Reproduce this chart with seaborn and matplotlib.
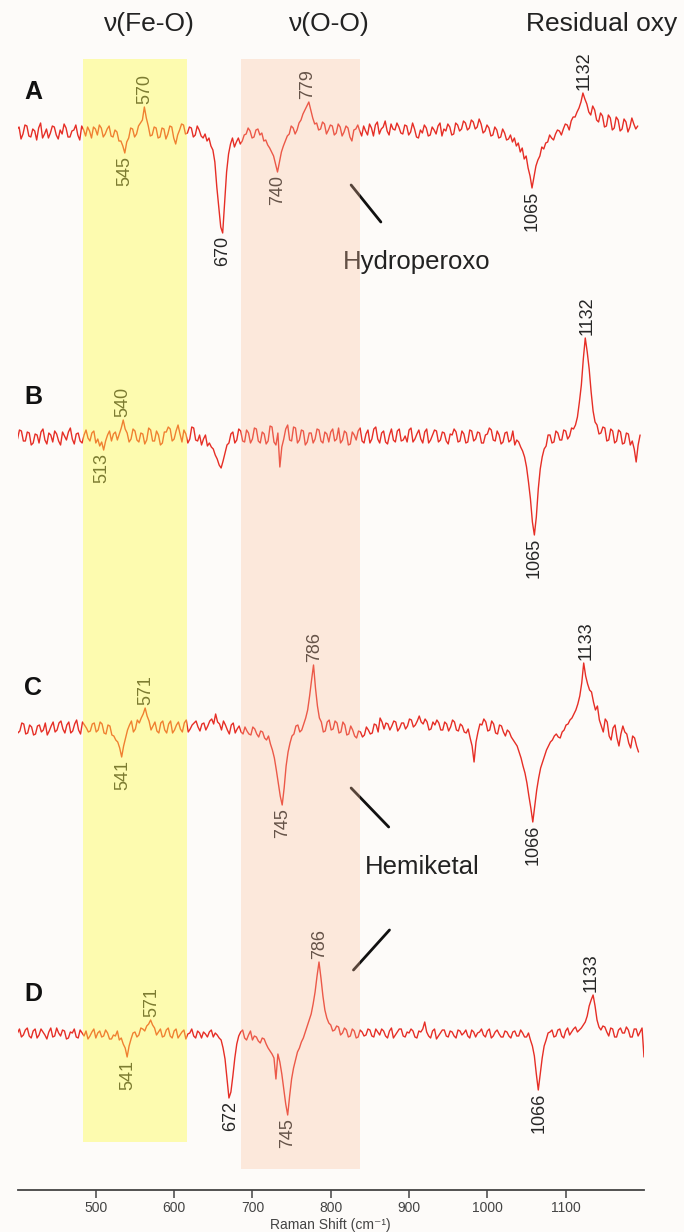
import numpy as np
import pandas as pd
import matplotlib
matplotlib.use("Agg")
import matplotlib.pyplot as plt
import seaborn as sns

# Raman difference spectra, sampled every 2.5 cm-1 from 400 to 1200
wavenumber = np.arange(400, 1200.1, 2.5)

trace_names = ["A", "B", "C", "D"]

spec_A = [2, 8, -4, 3, 5, -7, -2, 7, 6, -4, -5, 3, 1, -8, 4, 9, -6, -2, 3, -6,
          -1, 6, 5, -3, -7, 2, -2, 8, 4, -5, -5, 1, 2, 7, -3, -8, 6, 2, -4, 5,
          1, -6, 5, 3, -3, 7, 4, -5, -2, 3, 6, -4, -5, 2, 0, -9, -9, -14, -21, -10,
          -6, 4, 3, -5, -2, 6, 9, 12, 25, 14, 6, -4, -3, 5, 4, -6, -5, 4, 3, -7,
          -2, 6, 5, -6, -12, -3, 2, 8, 7, -2, -1, 5, 4, -5, -3, 6, 2, -4, -6, -2,
          -9, -6, -14, -18, -30, -55, -75, -95, -101, -70, -40, -22, -12, -6, -15, -10, -6, -12, -9, -3,
          -2, 4, 1, -6, -5, 2, 3, -3, -1, -9, -8, -13, -16, -20, -24, -32, -40, -30, -20, -14,
          -9, -4, -2, 6, 4, -2, 2, 9, 12, 18, 22, 26, 30, 22, 14, 8, 9, 2, 3, 10,
          8, -2, 2, 7, 6, -3, -1, 8, 5, -4, 0, 6, 4, -5, -9, 2, 3, 7, 1, -4,
          6, 1, -3, 8, 4, -4, 7, 10, -2, 3, 5, 11, 1, -3, 8, 3, 2, 9, 5, -1,
          -2, 7, 6, -3, 0, 9, 3, -5, -6, 2, -1, 7, 4, -4, -3, 5, 2, -2, 6, 9,
          -4, 3, 1, 8, 5, -3, -2, 9, 7, 1, 3, 11, 9, 2, 4, 12, 10, 3, 5, 13,
          8, -1, 1, 7, 4, -4, -3, 5, 2, -6, -5, 3, -1, -8, -7, -3, -10, -6, -14, -11,
          -20, -16, -27, -24, -36, -44, -56, -45, -34, -28, -24, -15, -17, -11, -10, -3, -6, -8, -2, 2,
          1, -3, 3, 8, 7, 2, 11, 15, 15, 20, 24, 30, 39, 33, 28, 20, 17, 26, 22, 12,
          10, 19, 16, 5, 6, 17, 14, 2, 4, 15, 12, 1, 3, 13, 10, 0, 5, 14, 8, 3,
          6]

spec_B = [3, -5, -2, 7, 6, -4, -4, 5, 4, -8, -6, 3, 2, -6, 5, 8, -3, -7, 4, 2,
          -5, 6, 3, -4, -8, 5, 1, -3, 5, 9, -2, -7, 3, 4, -4, -6, 2, 7, -1, -4,
          4, 6, -6, -2, -9, -5, -13, -4, 2, 6, -4, 3, 5, -3, 3, 9, 17, 8, 4, -5,
          -2, 8, 6, -3, -5, 4, 3, -7, -3, 9, 7, -4, -4, 6, 2, -8, -6, 5, 5, 10,
          8, -4, -2, 6, 12, 3, -5, 7, 3, -6, -2, 10, 9, -3, -4, 2, -8, -2, 2, -9,
          -6, -10, -12, -18, -22, -28, -31, -24, -16, -8, -6, 3, 5, -6, -3, 8, 6, -4, -5, 7,
          4, -6, -2, 9, 8, -4, -6, 5, 3, -7, -4, 11, 10, -5, -8, 4, -30, -10, -2, 8,
          12, -3, -4, 10, 9, -6, -3, 7, 6, -8, -5, 4, 4, -6, -2, 8, 7, -4, -6, 5,
          3, -5, 5, 8, -4, -2, 9, -6, -3, 6, 4, -8, -7, 5, 2, -3, 6, 9, -4, -6,
          3, 7, -6, -2, 8, 10, -2, -6, 4, 6, -5, -7, 2, 8, -3, -5, 6, 8, -4, -3,
          1, -5, 7, 9, -5, -2, 3, 7, -2, -6, 5, 8, -6, -3, 2, 7, 6, -5, -3, 5,
          4, -4, -7, 3, 2, 8, 5, -5, -4, 6, 3, -6, -5, 7, 6, -4, -2, 5, 4, -6,
          -6, 2, 3, 9, 7, -3, -4, 6, 2, -7, -5, 4, 5, -5, -3, 6, -8, -3, -5, -10,
          -14, -20, -30, -45, -62, -85, -98, -80, -52, -32, -20, -12, -9, 2, 2, -6, -5, 6, 4, -3,
          -3, 7, 6, -2, 1, 9, 8, 12, 20, 35, 52, 78, 99, 85, 68, 45, 26, 15, 12, 3,
          4, 10, 9, -4, -3, 8, 6, -6, -4, 7, 5, -7, -6, 4, 3, -8, -4, -12, -25, -8,
          2]

spec_C = [13, 6, 2, -5, -3, 5, 4, -6, -5, 3, 1, -7, -6, 2, 3, -4, -2, 5, -7, -3,
          2, 6, -4, -2, 5, 7, -1, -5, 3, 6, -5, -3, 4, 8, -2, -6, 6, 3, 0, -4,
          -3, 4, 5, -4, -2, 6, 4, -5, -6, 3, 2, -7, -8, -12, -14, -20, -29, -18, -10, -2,
          3, 7, -4, -1, 8, 5, 10, 14, 20, 12, 7, -2, 2, 6, -3, -5, 5, 7, -2, -5,
          4, 7, -5, -2, 3, 6, -1, -4, 5, 8, -4, -1, 3, 5, 7, 1, -3, 4, 5, -2,
          2, 7, 9, 4, 14, 6, 4, -2, 7, 3, -2, -6, 3, 5, -5, -1, 2, -4, -6, 1,
          -3, -6, -7, 1, -1, -6, -9, -3, -4, -10, -12, -8, -16, -22, -30, -42, -55, -68, -77, -60,
          -38, -24, -15, -8, -6, 2, 3, -4, -2, 4, 10, 18, 32, 48, 63, 40, 22, 10, 6, -4,
          -3, 6, 8, -2, -1, 7, 5, -5, -4, 6, 3, -7, -6, 2, -2, -8, -10, -3, -4, -9,
          -7, 1, -2, -6, -5, 4, 3, -4, 10, 6, -1, 5, 4, -2, 2, 7, 6, -3, 0, 5,
          5, -1, 2, 9, 8, 1, 3, 7, 12, 6, 4, 9, 6, -2, -1, 6, 3, 8, 5, -2,
          -2, 6, 4, -3, 1, 8, 6, -2, -3, 4, 2, -4, -5, -1, -10, -18, -34, -14, -4, 4,
          3, 9, 6, -3, -2, 7, 4, -5, -6, 3, 2, -4, -8, -2, -4, -9, -12, -15, -18, -24,
          -30, -38, -45, -55, -68, -80, -94, -78, -62, -50, -40, -34, -28, -22, -18, -14, -12, -8, -6, -9,
          -10, -4, -2, 3, 4, 8, 10, 14, 18, 24, 32, 45, 65, 52, 44, 38, 36, 26, 18, 22,
          8, 2, -4, 9, 6, -8, -12, 0, 3, -10, -18, -6, 2, -4, -6, -15, -20, -8, -10, -18,
          -24]

spec_D = [1, 5, -3, -1, 4, 6, -2, -4, 3, 5, -4, -1, 5, 2, -1, -5, 2, 6, -3, -2,
          6, 1, -2, 4, 3, -5, -4, 2, 1, 5, -3, -4, 4, 1, -2, 3, -5, -2, 2, 5,
          -4, 1, 3, -3, -2, 4, 1, -5, -5, -1, -2, 3, -6, -4, -10, -14, -23, -12, -5, 1,
          2, -3, -1, 6, 5, 3, 8, 10, 14, 9, 6, -1, 2, 5, -3, -2, 4, 6, -2, -4,
          3, 5, -4, -1, 2, 4, -5, 0, 1, 5, -2, -4, 3, 1, -4, 2, 0, -3, 2, 4,
          -3, 1, -1, -4, -6, -14, -25, -45, -64, -58, -42, -24, -10, -2, 2, 4, -4, -6, -1, 3,
          -6, -2, -3, -7, -9, -4, -5, -10, -14, -17, -20, -24, -45, -20, -28, -40, -55, -70, -81, -62,
          -45, -34, -26, -18, -14, -8, -4, 2, 8, 14, 20, 30, 42, 58, 72, 56, 38, 24, 16, 11,
          9, 3, 4, 8, 7, -1, 1, 6, 4, -3, -2, 5, 3, -4, -3, 4, 2, -2, -1, 5,
          4, -2, -3, 5, 2, -1, 5, 3, -2, -4, 3, 6, -4, -1, 2, 5, 5, -2, -3, 2,
          1, 5, 3, -3, -4, 3, 2, 5, 12, 2, -2, -4, 3, 5, -5, -2, 1, 4, 4, -2,
          -3, 3, 2, -2, -4, 4, 3, -1, 1, 4, -2, -4, 4, 2, -3, 1, 2, 5, -1, -3,
          3, 5, -4, -2, 2, 4, 0, -3, -3, 3, 2, -2, -4, 2, 3, -2, -2, 4, 1, -3,
          -3, 1, -6, -12, -22, -40, -56, -40, -24, -12, -6, 1, 2, 4, -3, -2, 4, 5, -2, -4,
          3, 6, -1, 2, 5, 7, 2, 4, 6, 9, 12, 18, 28, 34, 39, 28, 14, 7, 4, 8,
          7, 2, -2, 6, 5, -3, -3, 4, 6, 1, 1, 7, 4, -3, -3, 5, 5, -2, 2, 6,
          -23]

spectra = [spec_A, spec_B, spec_C, spec_D]
for s in spectra:
    assert len(s) == len(wavenumber)

# calibration shift of each trace against the axis (cm-1)
shifts = [-8, -5, -7, 0]

# peak labels: (text, direction)
labels_A = [("545", "down"), ("570", "up"), ("670", "down"), ("740", "down"),
            ("779", "up"), ("1065", "down"), ("1132", "up")]
labels_B = [("513", "down"), ("540", "up"), ("1065", "down"), ("1132", "up")]
labels_C = [("541", "down"), ("571", "up"), ("745", "down"), ("786", "up"),
            ("1066", "down"), ("1133", "up")]
labels_D = [("541", "down"), ("571", "up"), ("672", "down"), ("745", "down"),
            ("786", "up"), ("1066", "down"), ("1133", "up")]
peak_labels = [labels_A, labels_B, labels_C, labels_D]

band_titles = ["\u03bd(Fe-O)", "\u03bd(O-O)", "Residual oxy"]

# layout (vertical offsets of each trace, in plot units)
offsets = [-132, -437, -728, -1034]

sns.set_theme(style="white")
plt.rcParams["font.family"] = ["Liberation Sans", "DejaVu Sans"]

red = "#e62e26"
txt = "#262626"

rows = []
for name, spec, shift, off in zip(trace_names, spectra, shifts, offsets):
    for w, v in zip(wavenumber, spec):
        rows.append({"trace": name, "shift": w + shift, "signal": v + off})
df = pd.DataFrame(rows)

fig = plt.figure(figsize=(6.84, 12.32), dpi=100)
fig.patch.set_facecolor("#fdfbf9")
ax = fig.add_axes([17.5 / 684, 42 / 1232, 626.5 / 684, 1190 / 1232])
ax.set_facecolor("#fdfbf9")

sns.lineplot(data=df, x="shift", y="signal", hue="trace",
             palette=[red] * 4, estimator=None, sort=False,
             legend=False, linewidth=1.0, ax=ax, zorder=2)

# peak labels
for spec, shift, off, labs in zip(spectra, shifts, offsets, peak_labels):
    spec = np.asarray(spec)
    for text, direction in labs:
        pos = int(text)
        win = np.abs(wavenumber - pos) <= 5
        vals = spec[win]
        if direction == "up":
            ax.annotate(text, xy=(pos + shift, vals.max() + off), xytext=(0, 2),
                        textcoords="offset points", rotation=90,
                        ha="center", va="bottom", fontsize=13, color=txt,
                        zorder=3)
        else:
            ax.annotate(text, xy=(pos + shift, vals.min() + off), xytext=(0, -2),
                        textcoords="offset points", rotation=90,
                        ha="center", va="top", fontsize=13, color=txt,
                        zorder=3)

# panel letters
for name, off in zip(trace_names, offsets):
    ax.text(420, off + 40, name, ha="center", va="center",
            fontsize=18, fontweight="bold", color="#111111")

# annotations for hydroperoxo / hemiketal
ax.plot([826, 864], [-185, -222], color="#111111", lw=2, zorder=3)
ax.text(816, -262, "Hydroperoxo", ha="left", va="center",
        fontsize=18.5, color="#222222", zorder=3)
ax.plot([826, 874], [-788, -827], color="#111111", lw=2, zorder=3)
ax.text(844, -867, "Hemiketal", ha="left", va="center",
        fontsize=18.5, color="#222222", zorder=3)
ax.plot([829, 875], [-970, -930], color="#111111", lw=2, zorder=3)

# shaded bands drawn on top, translucent
ax.fill_between([483.7, 616.5], -1142, -59, color="#fffd42",
                alpha=0.4, lw=0, zorder=5)
ax.fill_between([685.4, 837.4], -1169, -59, color="#fabd98",
                alpha=0.3, lw=0, zorder=5)

# band titles
ax.text(569, -24, band_titles[0], ha="center", va="center",
        fontsize=19, color="#222222")
ax.text(798, -24, band_titles[1], ha="center", va="center",
        fontsize=19, color="#222222")
ax.text(1049, -24, band_titles[2], ha="left", va="center",
        fontsize=19, color="#222222", clip_on=False)

ax.set_xlim(400, 1200)
ax.set_ylim(-1190, 0)
ax.set_xticks(range(500, 1101, 100))
ax.set_yticks([])
for s in ["left", "right", "top"]:
    ax.spines[s].set_visible(False)
ax.spines["bottom"].set_color("#444444")
ax.spines["bottom"].set_linewidth(1.3)
ax.tick_params(axis="x", direction="out", length=6, width=1.1,
               color="#444444", labelsize=10, labelcolor="#444444", pad=2,
               bottom=True)
ax.set_xlabel("Raman Shift (cm\u207b\u00b9)", fontsize=10, color="#444444",
              labelpad=2)
ax.set_ylabel("")

fig.savefig("out.png", dpi=100, facecolor=fig.get_facecolor())
